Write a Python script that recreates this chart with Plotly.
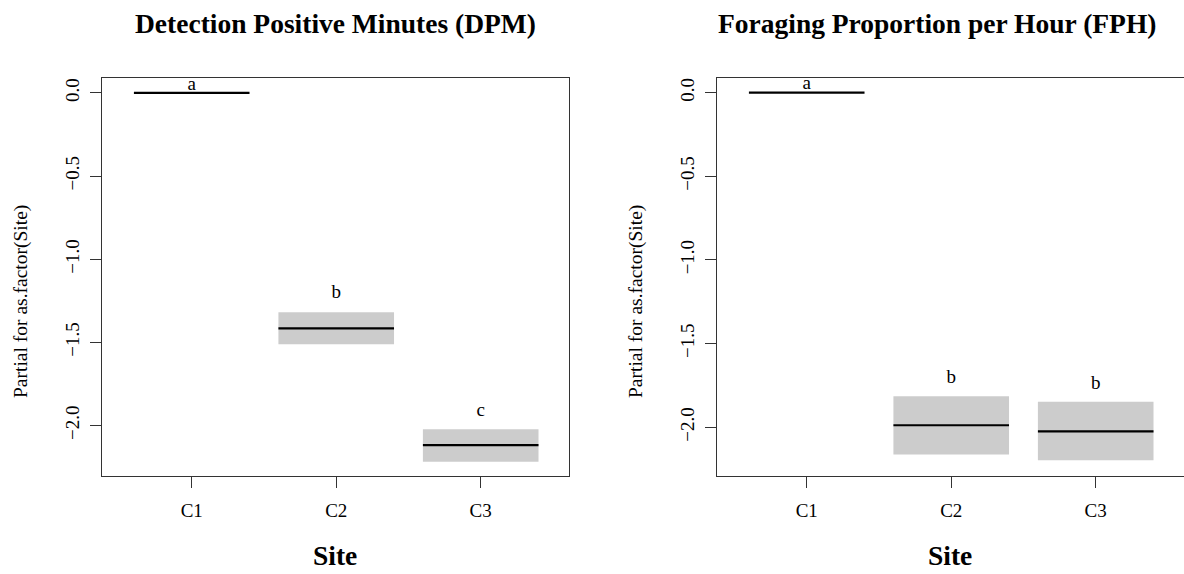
import plotly.graph_objects as go

sites = ["C1", "C2", "C3"]
site_pos = [1, 2, 3]

# Detection Positive Minutes (DPM)
dpm_fit = [0.0, -1.415, -2.118]
dpm_lo = [0.0, -1.511, -2.217]
dpm_hi = [0.0, -1.319, -2.022]
dpm_letters = ["a", "b", "c"]
dpm_letter_y = [0.048, -1.206, -1.912]

# Foraging Proportion per Hour (FPH)
fph_fit = [0.0, -1.988, -2.024]
fph_lo = [0.0, -2.163, -2.197]
fph_hi = [0.0, -1.815, -1.848]
fph_letters = ["a", "b", "b"]
fph_letter_y = [0.052, -1.709, -1.745]

yticks = [0.0, -0.5, -1.0, -1.5, -2.0]
ytick_text = ["0.0", "\u22120.5", "\u22121.0", "\u22121.5", "\u22122.0"]

titles = ["Detection Positive Minutes (DPM)", "Foraging Proportion per Hour (FPH)"]

HALF = 0.4
FONT = "Liberation Serif"
W, H = 1184, 574

fig = go.Figure()

panels = [
    (dpm_fit, dpm_lo, dpm_hi, dpm_letters, dpm_letter_y, "x", "y"),
    (fph_fit, fph_lo, fph_hi, fph_letters, fph_letter_y, "x2", "y2"),
]

for fit, lo, hi, letters, ly, xa, ya in panels:
    for p, f, l, h in zip(site_pos, fit, lo, hi):
        if h != l:
            fig.add_trace(go.Scatter(
                x=[p - HALF, p + HALF, p + HALF, p - HALF, p - HALF],
                y=[l, l, h, h, l],
                fill="toself", fillcolor="#CCCCCC", mode="lines",
                line=dict(width=0), xaxis=xa, yaxis=ya, showlegend=False,
                hoverinfo="skip"))
        fig.add_trace(go.Scatter(
            x=[p - HALF, p + HALF], y=[f, f], mode="lines",
            line=dict(color="black", width=2.2), xaxis=xa, yaxis=ya,
            showlegend=False))
    fig.add_trace(go.Scatter(
        x=site_pos, y=ly, mode="text", text=letters,
        textfont=dict(family=FONT, size=19, color="black"),
        xaxis=xa, yaxis=ya, showlegend=False, hoverinfo="skip"))

axis_common = dict(
    showline=True, linecolor="#333333", linewidth=1, mirror=True,
    showgrid=False, zeroline=False, ticks="outside", ticklen=11,
    tickcolor="#333333", tickfont=dict(family=FONT, size=19, color="black"),
)

px_per = lambda a, b: [a / W, b / W]
fig.update_layout(
    width=W, height=H, margin=dict(l=0, r=0, t=0, b=0),
    plot_bgcolor="white", paper_bgcolor="white",
    xaxis=dict(domain=px_per(101.7, 569), range=[0.377, 3.611],
               tickvals=site_pos, ticktext=sites, ticklabelstandoff=6, **axis_common),
    yaxis=dict(domain=[1 - 476.3 / H, 1 - 78.3 / H], range=[-2.305, 0.088],
               tickvals=yticks, ticktext=ytick_text, tickangle=-90,
               ticklabelstandoff=3, **axis_common),
    xaxis2=dict(domain=px_per(716.7, 1184), range=[0.377, 3.611], anchor="y2",
                tickvals=site_pos, ticktext=sites, ticklabelstandoff=6, **axis_common),
    yaxis2=dict(domain=[1 - 476.3 / H, 1 - 78.3 / H], range=[-2.293, 0.086], anchor="x2",
                tickvals=yticks, ticktext=ytick_text, tickangle=-90,
                ticklabelstandoff=3, **axis_common),
)

ann = []
for cx, t in zip([335, 937], titles):
    ann.append(dict(text="<b>%s</b>" % t, x=cx / W, y=1 - 23 / H, xref="paper", yref="paper",
                    showarrow=False, xanchor="center", yanchor="middle",
                    font=dict(family=FONT, size=27.5, color="black")))
for cx in [335, 950]:
    ann.append(dict(text="<b>Site</b>", x=cx / W, y=1 - 555 / H, xref="paper", yref="paper",
                    showarrow=False, xanchor="center", yanchor="middle",
                    font=dict(family=FONT, size=27.5, color="black")))
for cx in [21, 636]:
    ann.append(dict(text="Partial for as.factor(Site)", x=cx / W, y=1 - 302 / H,
                    xref="paper", yref="paper", showarrow=False, textangle=-90,
                    xanchor="center", yanchor="middle",
                    font=dict(family=FONT, size=19.5, color="black")))
fig.update_layout(annotations=ann)

fig.write_html("out.html")
